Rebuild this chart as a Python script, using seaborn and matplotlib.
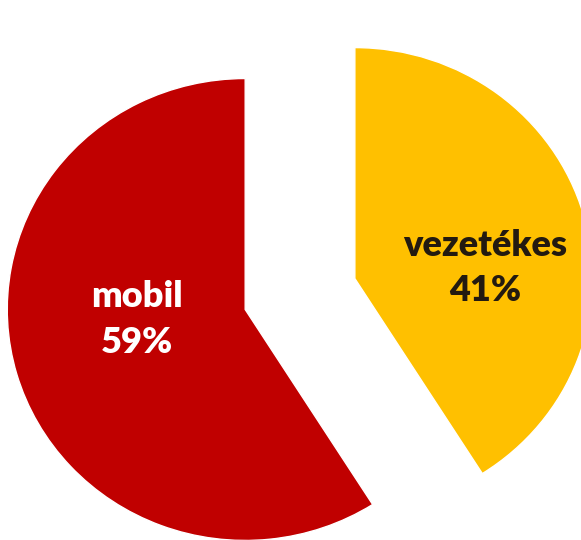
import seaborn as sns
import matplotlib.pyplot as plt

# data
categories = ["vezetékes", "mobil"]
shares = [41, 59]
colors = ["#FFC000", "#C00000"]
text_colors = ["#231a10", "white"]

sns.set_theme(style="white")
plt.rcParams['font.family'] = ['Lato', 'DejaVu Sans']

fig = plt.figure(figsize=(5.81, 5.40), dpi=100)
ax = fig.add_axes([0, 0, 1, 1])

wedges, _ = ax.pie(
    shares,
    colors=colors,
    startangle=90,
    counterclock=False,
    explode=[0.24, 0.24],
    radius=1,
)

# label positions inside the slices (data units)
label_pos = [(0.777, 0.113), (-0.685, -0.11)]
for name, val, pos, tc in zip(categories, shares, label_pos, text_colors):
    ax.text(pos[0], pos[1], f"{name}\n{val}%", ha="center", va="center",
            fontsize=26, fontweight="heavy", color=tc, linespacing=1.45)

# pie is a little squished and cropped in the reference
ax.set_aspect("auto")
ax.set_xlim(-1.261, 1.181)
ax.set_ylim(-1.065, 1.273)
ax.axis("off")

fig.savefig("out.png", dpi=100)
